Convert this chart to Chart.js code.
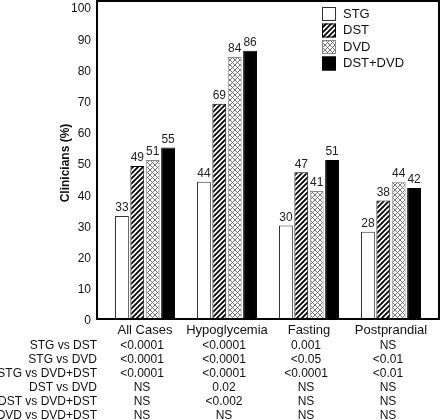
<!DOCTYPE html>
<html>
<head>
<meta charset="utf-8">
<script src="https://cdn.jsdelivr.net/npm/chart.js@4"></script>
<style>
  html, body { margin: 0; padding: 0; background: #fff; }
  #wrap { width: 440px; height: 420px; }
</style>
</head>
<body>
<div id="wrap"><canvas id="chart" width="440" height="420"></canvas></div>
<script>
const FONT = 'Liberation Sans, Arial, sans-serif';

const CATEGORIES = ['All Cases', 'Hypoglycemia', 'Fasting', 'Postprandial'];
const SERIES = ['STG', 'DST', 'DVD', 'DST+DVD'];
const STG = [33, 44, 30, 28];
const DST = [49, 69, 47, 38];
const DVD = [51, 84, 41, 44];
const DST_DVD = [55, 86, 51, 42];
const Y_TICKS = [0, 10, 20, 30, 40, 50, 60, 70, 80, 90, 100];

const TABLE_ROWS = ['STG vs DST', 'STG vs DVD', 'STG vs DVD+DST', 'DST vs DVD', 'DST vs DVD+DST', 'DVD vs DVD+DST'];
const TABLE_VALUES = [
  ['<0.0001', '<0.0001', '0.001', 'NS'],
  ['<0.0001', '<0.0001', '<0.05', '<0.01'],
  ['<0.0001', '<0.0001', '<0.0001', '<0.01'],
  ['NS', '0.02', 'NS', 'NS'],
  ['NS', '<0.002', 'NS', 'NS'],
  ['NS', 'NS', 'NS', 'NS'],
];

function makePattern(kind) {
  const c = document.createElement('canvas');
  const s = 5;
  c.width = s;
  c.height = s;
  const g = c.getContext('2d');
  g.fillStyle = '#fff';
  g.fillRect(0, 0, s, s);
  if (kind === 'hatch') {
    g.strokeStyle = '#000';
    g.lineWidth = 1.8;
    g.beginPath();
    g.moveTo(-1, s + 1); g.lineTo(s + 1, -1);
    g.moveTo(-1, 1); g.lineTo(1, -1);
    g.moveTo(s - 1, s + 1); g.lineTo(s + 1, s - 1);
    g.stroke();
  } else {
    g.strokeStyle = '#666';
    g.lineWidth = 0.9;
    g.beginPath();
    g.moveTo(0, 0); g.lineTo(s, s);
    g.moveTo(0, s); g.lineTo(s, 0);
    g.stroke();
  }
  return g.createPattern(c, 'repeat');
}

const hatch = makePattern('hatch');
const cross = makePattern('cross');

const FILLS = ['#fff', hatch, cross, '#000'];
const BORDERS = ['#333', '#000', '#888', '#000'];

const framePlugin = {
  id: 'frame',
  afterDraw(chart) {
    const { ctx, chartArea } = chart;
    ctx.save();
    ctx.strokeStyle = '#000';
    ctx.lineWidth = 2;
    ctx.strokeRect(chartArea.left - 7, 1, chartArea.right - chartArea.left + 14, chartArea.bottom - 1);
    ctx.restore();
  },
};

const valueLabels = {
  id: 'valueLabels',
  afterDatasetsDraw(chart) {
    const { ctx } = chart;
    ctx.save();
    ctx.font = '12px ' + FONT;
    ctx.fillStyle = '#222';
    ctx.textAlign = 'center';
    ctx.textBaseline = 'bottom';
    chart.data.datasets.forEach((ds, i) => {
      chart.getDatasetMeta(i).data.forEach((bar, j) => {
        ctx.fillText(String(ds.data[j]), bar.x, bar.y - 2);
      });
    });
    ctx.restore();
  },
};

const boxLegend = {
  id: 'boxLegend',
  afterDraw(chart) {
    const { ctx } = chart;
    ctx.save();
    ctx.font = '13px ' + FONT;
    ctx.textBaseline = 'middle';
    ctx.textAlign = 'left';
    SERIES.forEach((name, i) => {
      const y = 7 + i * 16.5;
      ctx.fillStyle = FILLS[i];
      ctx.fillRect(322, y, 14, 14);
      ctx.strokeStyle = BORDERS[i];
      ctx.lineWidth = 1;
      ctx.strokeRect(322.5, y + 0.5, 13, 13);
      ctx.fillStyle = '#111';
      ctx.fillText(name, 343, y + 7);
    });
    ctx.restore();
  },
};

const statsTable = {
  id: 'statsTable',
  afterDraw(chart) {
    const { ctx } = chart;
    const x = chart.scales.x;
    ctx.save();
    ctx.font = '12px ' + FONT;
    ctx.fillStyle = '#111';
    ctx.textBaseline = 'middle';
    TABLE_ROWS.forEach((row, r) => {
      const y = 346 + r * 14;
      ctx.textAlign = 'right';
      ctx.fillText(row, 97, y);
      ctx.textAlign = 'center';
      TABLE_VALUES[r].forEach((v, c) => {
        ctx.fillText(v, x.getPixelForValue(c) - 3, y);
      });
    });
    ctx.restore();
  },
};

new Chart(document.getElementById('chart').getContext('2d'), {
  type: 'bar',
  data: {
    labels: CATEGORIES,
    datasets: [STG, DST, DVD, DST_DVD].map((values, i) => ({
      label: SERIES[i],
      data: values,
      backgroundColor: FILLS[i],
      borderColor: BORDERS[i],
      borderWidth: 1,
      categoryPercentage: 0.75,
      barPercentage: 0.9,
    })),
  },
  options: {
    responsive: false,
    animation: false,
    layout: { padding: { top: 7, right: 8, left: 0, bottom: 0 } },
    plugins: {
      legend: { display: false },
      tooltip: { enabled: false },
    },
    scales: {
      x: {
        grid: { display: false, drawTicks: false },
        border: { display: false },
        ticks: {
          color: '#111',
          font: { family: FONT, size: 13 },
          padding: 4,
          maxRotation: 0,
          minRotation: 0,
          autoSkip: false,
        },
        afterFit(scale) {
          scale.height = 101;
          scale.paddingLeft = 0;
          scale.paddingRight = 0;
        },
      },
      y: {
        min: 0,
        max: 100,
        afterBuildTicks(scale) { scale.ticks = Y_TICKS.map((v) => ({ value: v })); },
        grid: { display: false, drawTicks: false },
        border: { display: false },
        ticks: { color: '#111', font: { family: FONT, size: 12 }, padding: 13, labelOffset: 2 },
        title: {
          display: true,
          text: 'Clinicians (%)',
          color: '#111',
          font: { family: FONT, size: 12, weight: 'bold' },
          padding: { top: 58, bottom: 0 },
        },
        afterFit(scale) {
          scale.width = 104;
          scale.paddingTop = 0;
          scale.paddingBottom = 0;
        },
      },
    },
  },
  plugins: [framePlugin, valueLabels, boxLegend, statsTable],
});
</script>
</body>
</html>
